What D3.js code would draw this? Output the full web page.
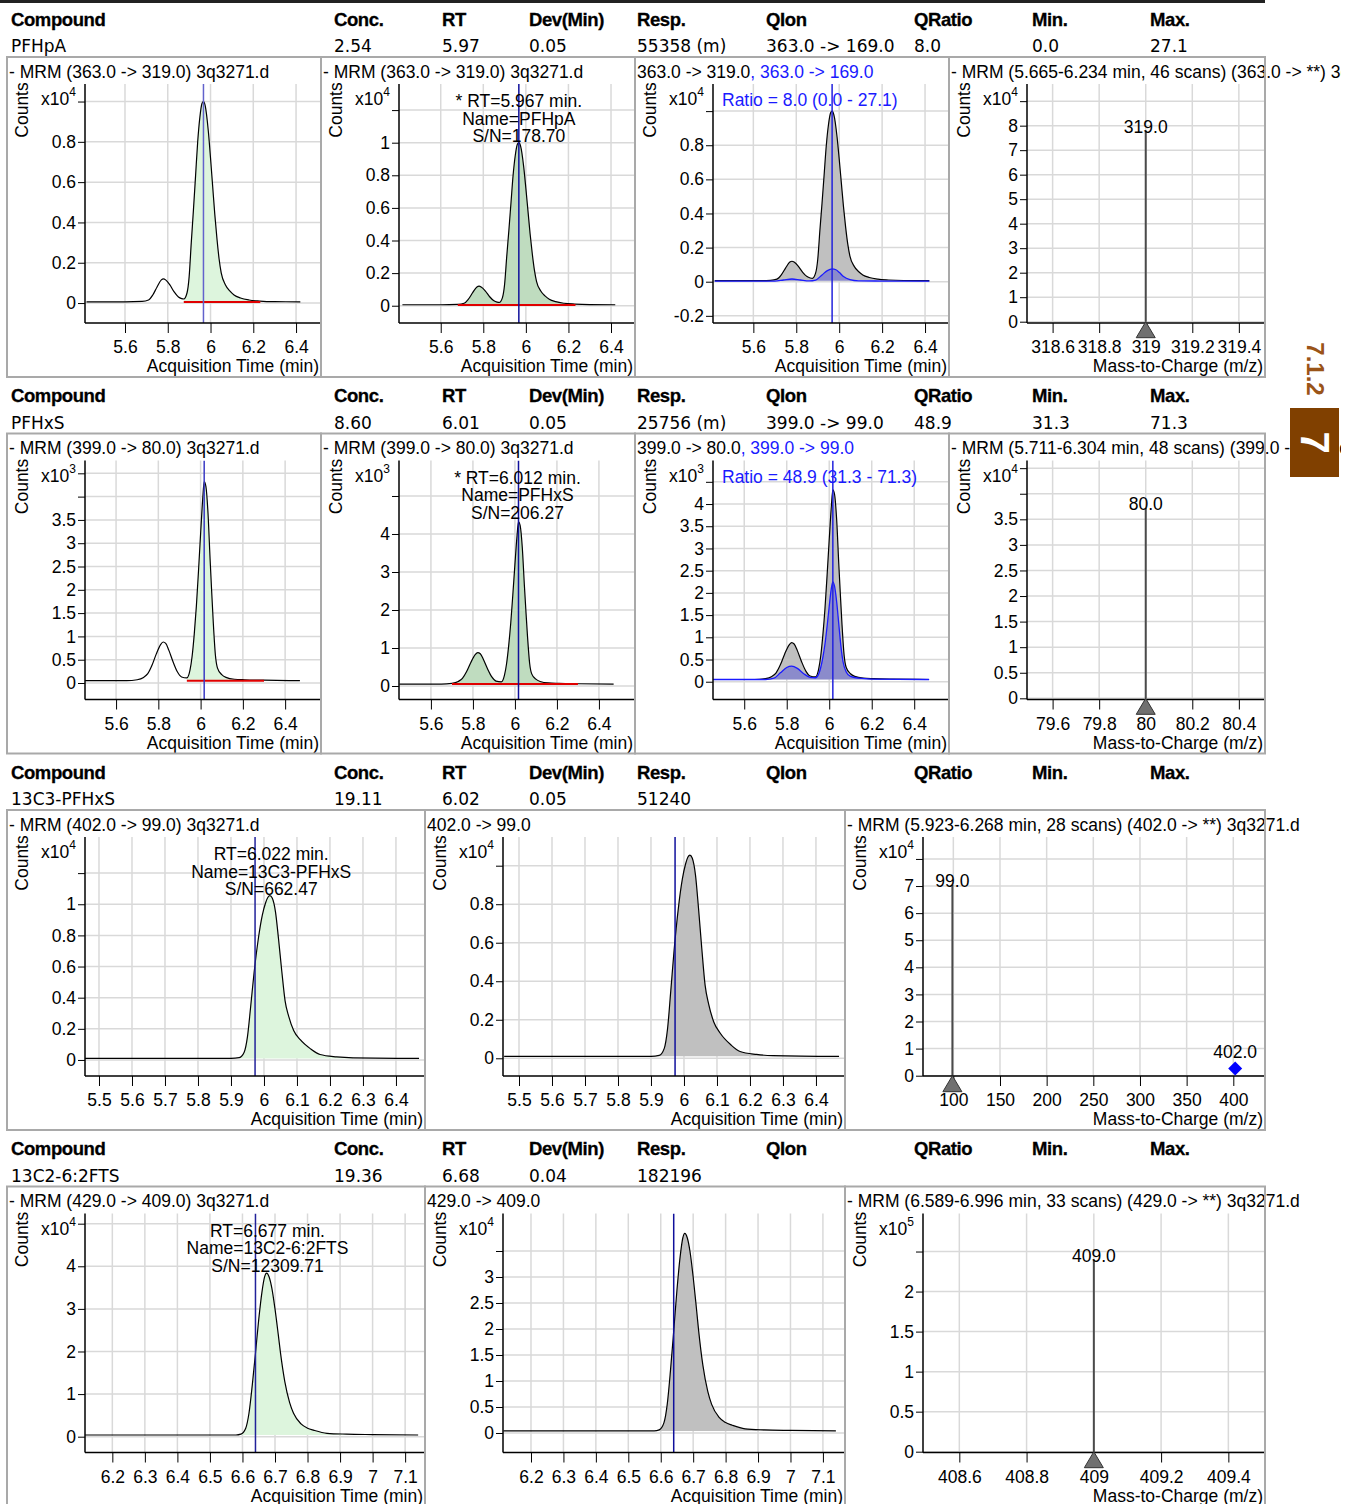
<!DOCTYPE html>
<html><head><meta charset="utf-8">
<script src="https://cdn.jsdelivr.net/npm/d3@7"></script>
<style>body{margin:0;background:#fff;}</style>
</head><body>
<svg id="c" width="1357" height="1504"></svg>
<script>
// ---------------- DATA ----------------
const headerLabels = ["Compound","Conc.","RT","Dev(Min)","Resp.","QIon","QRatio","Min.","Max."];
const compounds   = ["PFHpA","PFHxS","13C3-PFHxS","13C2-6:2FTS"];
const concValues  = ["2.54","8.60","19.11","19.36"];
const rtValues    = ["5.97","6.01","6.02","6.68"];
const devValues   = ["0.05","0.05","0.05","0.04"];
const respValues  = ["55358 (m)","25756 (m)","51240","182196"];
const qionValues  = ["363.0 -> 169.0","399.0 -> 99.0","",""];
const qratioValues= ["8.0","48.9","",""];
const minValues   = ["0.0","31.3","",""];
const maxValues   = ["27.1","71.3","",""];

const quantTransitions = ["363.0 -> 319.0","399.0 -> 80.0","402.0 -> 99.0","429.0 -> 409.0"];
const scanRanges = ["5.665-6.234","5.711-6.304","5.923-6.268","6.589-6.996"];
const scanCounts = [46,48,28,33];
const precursors = ["363.0","399.0","402.0","429.0"];
const foundRT = ["5.967","6.012","6.022","6.677"];
const snValues = ["178.70","206.27","662.47","12309.71"];
const expectedRT = [5.967, 6.017, 5.973, 6.640];
const integStart = [5.875, 5.935, 5.925, 6.595];
const integEnd   = [6.233, 6.30, 6.27, 7.0];
const baseLevel  = [0.005, 0.05, 0.01, 0.04];
const integStartWide = [5.68, 5.70];

// PFHpA 363 -> 319 (x10^4)
const pfhpaTime  = [5.42,5.60,5.68,5.71,5.73,5.75,5.77,5.78,5.79,5.81,5.83,5.85,5.865,5.875,5.89,5.90,5.91,5.92,5.93,5.94,5.95,5.96,5.967,5.975,5.99,6.00,6.01,6.02,6.03,6.04,6.05,6.07,6.09,6.11,6.14,6.18,6.23,6.30,6.42];
const pfhpaQuant = [0.006,0.006,0.008,0.015,0.04,0.08,0.115,0.12,0.115,0.09,0.055,0.03,0.022,0.02,0.05,0.13,0.30,0.46,0.63,0.80,0.92,0.99,1.0,0.98,0.85,0.72,0.58,0.44,0.32,0.22,0.15,0.09,0.06,0.04,0.025,0.015,0.01,0.007,0.006];
// PFHpA 363 -> 169 (x10^4)
const pfhpaQualTime = [5.42,5.70,5.74,5.78,5.82,5.86,5.89,5.92,5.945,5.967,5.985,6.00,6.02,6.05,6.09,6.20,6.42];
const pfhpaQual     = [0.003,0.004,0.01,0.016,0.01,0.005,0.01,0.04,0.065,0.075,0.07,0.055,0.03,0.012,0.005,0.004,0.003];
// PFHxS 399 -> 80 (x10^3)
const pfhxsTime  = [5.45,5.65,5.70,5.73,5.75,5.77,5.79,5.81,5.823,5.835,5.85,5.87,5.89,5.91,5.935,5.95,5.96,5.97,5.98,5.99,6.00,6.01,6.017,6.025,6.035,6.045,6.052,6.06,6.07,6.08,6.10,6.12,6.16,6.21,6.30,6.47];
const pfhxsQuant = [0.05,0.05,0.07,0.12,0.2,0.38,0.62,0.82,0.88,0.85,0.7,0.45,0.24,0.13,0.11,0.28,0.58,1.05,1.65,2.4,3.2,3.95,4.32,4.22,3.65,2.65,2.0,1.3,0.6,0.32,0.18,0.12,0.08,0.07,0.06,0.05];
// PFHxS 399 -> 99 (x10^3)
const pfhxsQualTime = [5.45,5.70,5.74,5.77,5.80,5.823,5.85,5.88,5.91,5.935,5.95,5.96,5.97,5.98,5.99,6.00,6.01,6.017,6.025,6.035,6.045,6.055,6.065,6.08,6.10,6.14,6.20,6.47];
const pfhxsQual     = [0.05,0.05,0.08,0.2,0.32,0.35,0.3,0.18,0.1,0.09,0.17,0.32,0.55,0.85,1.25,1.7,2.1,2.25,2.15,1.8,1.3,0.8,0.45,0.22,0.12,0.08,0.06,0.05];
// 13C3-PFHxS 402 -> 99 (x10^4)
const c3Time  = [5.455,5.90,5.925,5.94,5.95,5.96,5.97,5.983,5.995,6.005,6.012,6.018,6.025,6.035,6.044,6.054,6.064,6.075,6.09,6.11,6.142,6.17,6.22,6.27,6.47];
const c3Quant = [0.01,0.01,0.015,0.05,0.15,0.35,0.56,0.78,0.93,1.01,1.045,1.055,1.04,0.95,0.78,0.57,0.38,0.28,0.19,0.13,0.07,0.035,0.02,0.014,0.01];
// 13C2-6:2FTS 429 -> 409 (x10^4)
const c2Time  = [6.115,6.58,6.595,6.61,6.62,6.63,6.64,6.65,6.66,6.668,6.674,6.682,6.69,6.70,6.71,6.717,6.73,6.745,6.757,6.78,6.80,6.82,6.86,6.92,7.0,7.14];
const c2Quant = [0.04,0.04,0.06,0.2,0.55,1.2,1.96,2.75,3.4,3.75,3.84,3.75,3.5,3.0,2.4,1.96,1.3,0.8,0.55,0.3,0.2,0.15,0.08,0.06,0.05,0.04];

// spectra
const specMz     = [319.0, 80.0, 99.0, 409.0];
const specCounts = [7.8, 3.72, 7.04, 2.40];
const precursorMz = [402.0];
const precursorCounts = [0.27];

// tick labels
const xTicksRTa = ['5.6','5.8','6','6.2','6.4'];
const xTicksRTb = ['5.5','5.6','5.7','5.8','5.9','6','6.1','6.2','6.3','6.4'];
const xTicksRTc = ['6.2','6.3','6.4','6.5','6.6','6.7','6.8','6.9','7','7.1'];
const xTicksMz1 = ['318.6','318.8','319','319.2','319.4'];
const xTicksMz2 = ['79.6','79.8','80','80.2','80.4'];
const xTicksMz3 = ['100','150','200','250','300','350','400'];
const xTicksMz4 = ['408.6','408.8','409','409.2','409.4'];
const yT_pfhpaQ = ['0','0.2','0.4','0.6','0.8','1'];
const yT_pfhpaI = ['0','0.2','0.4','0.6','0.8','1','1.2'];
const yT_pfhpaR = ['-0.2','0','0.2','0.4','0.6','0.8','1'];
const yT_pfhpaS = ['0','1','2','3','4','5','6','7','8','9'];
const yT_pfhxsQ = ['0','0.5','1','1.5','2','2.5','3','3.5','4','4.5'];
const yT_pfhxsI = ['0','1','2','3','4','5'];
const yT_pfhxsR = ['0','0.5','1','1.5','2','2.5','3','3.5','4','4.5'];
const yT_pfhxsS = ['0','0.5','1','1.5','2','2.5','3','3.5','4','4.5'];
const yT_c3Q = ['0','0.2','0.4','0.6','0.8','1','1.2'];
const yT_c3I = ['0','0.2','0.4','0.6','0.8','1'];
const yT_c3S = ['0','1','2','3','4','5','6','7','8'];
const yT_c2Q = ['0','1','2','3','4','5'];
const yT_c2I = ['0','0.5','1','1.5','2','2.5','3','3.5'];
const yT_c2S = ['0','0.5','1','1.5','2','2.5'];

// ---------------- STYLE / LAYOUT ----------------
const FF = "'Liberation Sans', Arial, sans-serif";
const FS = 17.5;
const BLUE = '#1a1aff';
const LIGHTGREEN = '#ddf5dd', DARKGREEN = '#bfdcbf', GRAY = '#c0c0c0';
const headerX = [11,334,442,529,637,766,914,1032,1150];
const rowTop = r => r * 376.5;
const RT_T = 'Acquisition Time (min)', MZ_T = 'Mass-to-Charge (m/z)';

const svg = d3.select('#c');
const defs = svg.append('defs');
let clipN = 0;
function clip(x, y, w, h) {
  const id = 'cp' + (clipN++);
  defs.append('clipPath').attr('id', id).append('rect').attr('x', x).attr('y', y).attr('width', Math.max(0, w)).attr('height', h);
  return `url(#${id})`;
}

svg.append('rect').attr('width', 1357).attr('height', 1504).attr('fill', '#fff');
svg.append('line').attr('x1', 0).attr('x2', 1265).attr('y1', 1.5).attr('y2', 1.5).attr('stroke', '#222').attr('stroke-width', 3);

// table rows
for (let r = 0; r < 4; r++) {
  const t = rowTop(r);
  svg.append('g').selectAll('text').data(headerLabels).join('text')
    .attr('x', (d, i) => headerX[i]).attr('y', t + 25.5)
    .attr('font-family', FF).attr('font-weight', 'bold').attr('font-size', 18.5).attr('letter-spacing', -0.4)
    .attr('stroke', '#000').attr('stroke-width', 0.3)
    .text(d => d);
  const vals = [compounds[r], concValues[r], rtValues[r], devValues[r], respValues[r], qionValues[r], qratioValues[r], minValues[r], maxValues[r]];
  svg.append('g').selectAll('text').data(vals).join('text')
    .attr('x', (d, i) => headerX[i]).attr('y', t + 52)
    .attr('font-family', "'DejaVu Sans', Verdana, sans-serif").attr('font-size', 17)
    .text(d => d);
}

const titleLayer = svg.append('g').attr('clip-path', clip(0, 0, 1341, 1504));

function drawPanel(p) {
  const y0 = rowTop(p.row) + 57, x0 = p.x, w = p.w;
  const L = x0 + 78, R = x0 + w - 1, T = y0 + 27, B = y0 + 266;
  const g = svg.append('g');
  const xs = d3.scaleLinear().domain(p.xd).range([L, R]);
  const ys = d3.scaleLinear().domain(p.yd).range([B, T]);
  const xt = p.xl.map(Number), yt = p.yl.map(Number);
  const ylab = p.yl.map((d, i) => i >= p.yl.length - p.hide ? '' : d);

  // grid
  g.append('g').selectAll('line').data(xt).join('line')
    .attr('x1', d => xs(d)).attr('x2', d => xs(d)).attr('y1', T).attr('y2', B)
    .attr('stroke', '#d9d9d9').attr('stroke-width', 1.5);
  g.append('g').selectAll('line').data(yt).join('line')
    .attr('x1', L).attr('x2', R).attr('y1', d => ys(d)).attr('y2', d => ys(d))
    .attr('stroke', '#d9d9d9').attr('stroke-width', 1.5);

  const plot = g.append('g').attr('clip-path', clip(L, T, R - L, B - T));
  const line = d3.line().x(d => xs(d[0])).y(d => ys(d[1])).curve(d3.curveMonotoneX);
  const area = base => d3.area().x(d => xs(d[0])).y0(ys(base)).y1(d => ys(d[1])).curve(d3.curveMonotoneX);

  if (p.kind === 'chrom' || p.kind === 'qual') {
    const pts = d3.zip(p.t, p.v);
    if (p.fillAll) {
      plot.append('path').attr('d', area(p.base)(pts)).attr('fill', p.fillColor);
    } else {
      const a = xs(p.fill[0]), b = xs(p.fill[1]);
      plot.append('g').attr('clip-path', clip(a, T, b - a, B - T))
        .append('path').attr('d', area(p.base)(pts)).attr('fill', p.fillColor);
    }
    plot.append('path').attr('d', line(pts)).attr('fill', 'none').attr('stroke', '#000').attr('stroke-width', 1.2);
    if (p.kind === 'qual') {
      const q = d3.zip(p.qt, p.qv);
      plot.append('path').attr('d', area(p.base)(q)).attr('fill', '#3c3cdc').attr('fill-opacity', 0.4);
      plot.append('path').attr('d', line(q)).attr('fill', 'none').attr('stroke', BLUE).attr('stroke-width', 1.3);
    }
    if (p.red) {
      plot.append('line').attr('x1', xs(p.fill[0])).attr('x2', xs(p.fill[1]))
        .attr('y1', ys(p.base)).attr('y2', ys(p.base)).attr('stroke', '#e00000').attr('stroke-width', 2);
    }
    if (p.annot) {
      g.append('g').selectAll('text').data(p.annot).join('text')
        .attr('x', xs(p.annotX)).attr('y', (d, i) => y0 + 50 + i * 17.5)
        .attr('text-anchor', 'middle').attr('font-family', FF).attr('font-size', FS).text(d => d);
    }
    plot.append('line').attr('x1', xs(p.rt)).attr('x2', xs(p.rt)).attr('y1', T).attr('y2', B)
      .attr('stroke', p.rtColor).attr('stroke-width', 1.5);
    if (p.ratio) {
      g.append('text').attr('x', L + 9).attr('y', y0 + 49).attr('font-family', FF).attr('font-size', FS)
        .attr('fill', BLUE).text(p.ratio);
    }
  }
  if (p.kind === 'spec') {
    plot.append('line').attr('x1', xs(p.mz)).attr('x2', xs(p.mz)).attr('y1', ys(0)).attr('y2', ys(p.val))
      .attr('stroke', '#4a4a4a').attr('stroke-width', 2);
    g.append('text').attr('x', xs(p.mz)).attr('y', ys(p.val) + 2).attr('text-anchor', 'middle')
      .attr('font-family', FF).attr('font-size', FS).text(p.mz.toFixed(1));
  }

  // axes
  const ya = d3.axisLeft(ys).tickValues(yt).tickFormat((d, i) => ylab[i]).tickSize(7).tickPadding(2);
  const yg = g.append('g').attr('transform', `translate(${L},0)`).call(ya);
  yg.select('.domain').remove();
  yg.attr('font-size', FS).attr('font-family', FF);
  yg.selectAll('text').attr('fill', '#000');
  yg.selectAll('line').attr('stroke', '#000');
  const xa = d3.axisBottom(xs).tickValues(xt).tickFormat((d, i) => p.xl[i]).tickSize(10).tickPadding(8);
  const xg = g.append('g').attr('transform', `translate(0,${B})`).call(xa);
  xg.select('.domain').remove();
  xg.attr('font-size', FS).attr('font-family', FF);
  xg.selectAll('text').attr('fill', '#000');
  xg.selectAll('line').attr('stroke', '#000');
  g.append('line').attr('x1', L).attr('x2', L).attr('y1', T).attr('y2', B).attr('stroke', '#000').attr('stroke-width', 1.5);
  g.append('line').attr('x1', L).attr('x2', R).attr('y1', B).attr('y2', B).attr('stroke', '#000').attr('stroke-width', 1.5);

  if (p.kind === 'spec') {
    const cx = xs(p.mz), cy = ys(0);
    g.append('path').attr('d', `M${cx},${cy} L${cx + 9.5},${cy + 16} L${cx - 9.5},${cy + 16} Z`)
      .attr('fill', '#707070').attr('stroke', '#333').attr('stroke-width', 1);
    if (p.pmz !== undefined) {
      const dx = xs(p.pmz), dy = ys(p.pval);
      g.append('path').attr('d', `M${dx},${dy - 7} L${dx + 7},${dy} L${dx},${dy + 7} L${dx - 7},${dy} Z`).attr('fill', '#0000ff');
      g.append('text').attr('x', dx).attr('y', dy - 10).attr('text-anchor', 'middle')
        .attr('font-family', FF).attr('font-size', FS).text(p.pmz.toFixed(1));
    }
  }

  // labels
  g.append('text').attr('transform', `translate(${x0 + 21},${y0 + 53}) rotate(-90)`).attr('text-anchor', 'middle')
    .attr('font-family', FF).attr('font-size', FS).text('Counts');
  const ex = g.append('text').attr('x', L - 9).attr('y', T + 21).attr('text-anchor', 'end')
    .attr('font-family', FF).attr('font-size', FS);
  ex.append('tspan').text('x10');
  ex.append('tspan').attr('dy', -9).attr('font-size', 12).text(p.exp);
  g.append('text').attr('x', R - 1).attr('y', y0 + 315).attr('text-anchor', 'end')
    .attr('font-family', FF).attr('font-size', FS).text(p.xTitle);

  // title
  const tt = titleLayer.append('text').attr('x', x0 + 2).attr('y', y0 + 20.5).attr('font-family', FF).attr('font-size', FS);
  p.title.forEach(s => tt.append('tspan').attr('fill', s[1]).text(s[0]));

  // border
  svg.append('rect').attr('x', x0).attr('y', y0).attr('width', w).attr('height', 320)
    .attr('fill', 'none').attr('stroke', '#a9a9a9').attr('stroke-width', 2);
}

const K = '#000';
const mrmTitle = r => [[`- MRM (${quantTransitions[r]}) 3q3271.d`, K]];
const specTitle = r => [[`- MRM (${scanRanges[r]} min, ${scanCounts[r]} scans) (${precursors[r]} -> **) 3q3271.d`, K]];
const annot = (r, star) => [`${star ? '* ' : ''}RT=${foundRT[r]} min.`, `Name=${compounds[r]}`, `S/N=${snValues[r]}`];
const ratioText = r => `Ratio = ${qratioValues[r]} (${minValues[r]} - ${maxValues[r]})`;

const panels = [
  // ---- row 0 : PFHpA
  {row:0, x:7, w:314, kind:'chrom', title:mrmTitle(0), exp:'4', xd:[5.413,6.512], yd:[-0.099,1.087],
   xl:xTicksRTa, yl:yT_pfhpaQ, hide:1, t:pfhpaTime, v:pfhpaQuant, base:baseLevel[0],
   fill:[integStart[0], integEnd[0]], fillColor:LIGHTGREEN, red:true, rt:expectedRT[0], rtColor:'#6262cc', xTitle:RT_T},
  {row:0, x:321, w:314, kind:'chrom', title:mrmTitle(0), exp:'4', xd:[5.404,6.508], yd:[-0.106,1.36],
   xl:xTicksRTa, yl:yT_pfhpaI, hide:1, t:pfhpaTime, v:pfhpaQuant, base:baseLevel[0],
   fill:[integStartWide[0], integEnd[0]], fillColor:DARKGREEN, red:true, rt:expectedRT[0], rtColor:'#10109c',
   annot:annot(0, true), annotX:+foundRT[0], xTitle:RT_T},
  {row:0, x:635, w:314, kind:'qual', title:[[quantTransitions[0], K], [', ' + qionValues[0], BLUE]], exp:'4',
   xd:[5.412,6.507], yd:[-0.242,1.159], xl:xTicksRTa, yl:yT_pfhpaR, hide:1,
   t:pfhpaTime, v:pfhpaQuant, qt:pfhpaQualTime, qv:pfhpaQual, base:baseLevel[0], fillAll:true, fillColor:GRAY,
   rt:expectedRT[0], rtColor:'#2222dd', ratio:ratioText(0), xTitle:RT_T},
  {row:0, x:949, w:316, kind:'spec', title:specTitle(0), exp:'4', xd:[318.49,319.508], yd:[-0.053,9.70],
   xl:xTicksMz1, yl:yT_pfhpaS, hide:1, mz:specMz[0], val:specCounts[0], xTitle:MZ_T},
  // ---- row 1 : PFHxS
  {row:1, x:7, w:314, kind:'chrom', title:mrmTitle(1), exp:'3', xd:[5.453,6.565], yd:[-0.354,4.775],
   xl:xTicksRTa, yl:yT_pfhxsQ, hide:2, t:pfhxsTime, v:pfhxsQuant, base:baseLevel[1],
   fill:[integStart[1], integEnd[1]], fillColor:LIGHTGREEN, red:true, rt:expectedRT[1], rtColor:'#3a3ac4', xTitle:RT_T},
  {row:1, x:321, w:314, kind:'chrom', title:mrmTitle(1), exp:'3', xd:[5.448,6.567], yd:[-0.355,5.934],
   xl:xTicksRTa, yl:yT_pfhxsI, hide:1, t:pfhxsTime, v:pfhxsQuant, base:baseLevel[1],
   fill:[integStartWide[1], integEnd[1]], fillColor:DARKGREEN, red:true, rt:expectedRT[1], rtColor:'#10109c',
   annot:annot(1, true), annotX:+foundRT[1], xTitle:RT_T},
  {row:1, x:635, w:314, kind:'qual', title:[[quantTransitions[1], K], [', ' + qionValues[1], BLUE]], exp:'3',
   xd:[5.453,6.559], yd:[-0.40,4.98], xl:xTicksRTa, yl:yT_pfhxsR, hide:1,
   t:pfhxsTime, v:pfhxsQuant, qt:pfhxsQualTime, qv:pfhxsQual, base:baseLevel[1], fillAll:true, fillColor:GRAY,
   rt:expectedRT[1], rtColor:'#2222dd', ratio:ratioText(1), xTitle:RT_T},
  {row:1, x:949, w:316, kind:'spec', title:specTitle(1), exp:'4', xd:[79.49,80.508], yd:[-0.023,4.65],
   xl:xTicksMz2, yl:yT_pfhxsS, hide:2, mz:specMz[1], val:specCounts[1], xTitle:MZ_T},
  // ---- row 2 : 13C3-PFHxS
  {row:2, x:7, w:418, kind:'chrom', title:mrmTitle(2), exp:'4', xd:[5.4576,6.485], yd:[-0.103,1.432],
   xl:xTicksRTb, yl:yT_c3Q, hide:1, t:c3Time, v:c3Quant, base:baseLevel[2],
   fill:[integStart[2], integEnd[2]], fillColor:LIGHTGREEN, red:false, rt:expectedRT[2], rtColor:'#22229a',
   annot:annot(2, false), annotX:+foundRT[2], xTitle:RT_T},
  {row:2, x:425, w:420, kind:'chrom', title:[[quantTransitions[2], K]], exp:'4', xd:[5.4515,6.485], yd:[-0.092,1.149],
   xl:xTicksRTb, yl:yT_c3I, hide:1, t:c3Time, v:c3Quant, base:baseLevel[2], fillAll:true, fillColor:GRAY,
   rt:expectedRT[2], rtColor:'#10109c', xTitle:RT_T},
  {row:2, x:845, w:420, kind:'spec', title:specTitle(2), exp:'4', xd:[67.5,432.9], yd:[-0.011,8.81],
   xl:xTicksMz3, yl:yT_c3S, hide:1, mz:specMz[2], val:specCounts[2], pmz:precursorMz[0], pval:precursorCounts[0], xTitle:MZ_T},
  // ---- row 3 : 13C2-6:2FTS
  {row:3, x:7, w:418, kind:'chrom', title:mrmTitle(3), exp:'4', xd:[6.116,7.158], yd:[-0.371,5.239],
   xl:xTicksRTc, yl:yT_c2Q, hide:1, t:c2Time, v:c2Quant, base:baseLevel[3],
   fill:[integStart[3], integEnd[3]], fillColor:LIGHTGREEN, red:false, rt:expectedRT[3], rtColor:'#22229a',
   annot:annot(3, false), annotX:+foundRT[3], xTitle:RT_T},
  {row:3, x:425, w:420, kind:'chrom', title:[[quantTransitions[3], K]], exp:'4', xd:[6.1137,7.165], yd:[-0.375,4.221],
   xl:xTicksRTc, yl:yT_c2I, hide:1, t:c2Time, v:c2Quant, base:baseLevel[3], fillAll:true, fillColor:GRAY,
   rt:expectedRT[3], rtColor:'#10109c', xTitle:RT_T},
  {row:3, x:845, w:420, kind:'spec', title:specTitle(3), exp:'5', xd:[408.492,409.506], yd:[-0.01,2.975],
   xl:xTicksMz4, yl:yT_c2S, hide:1, mz:specMz[3], val:specCounts[3], xTitle:MZ_T}
];
panels.forEach(drawPanel);

// side tab
svg.append('text').attr('transform', 'translate(1307,369) rotate(90)').attr('text-anchor', 'middle')
  .attr('font-family', FF).attr('font-weight', 'bold').attr('font-size', 24).attr('fill', '#9a5418').text('7.1.2');
svg.append('rect').attr('x', 1290).attr('y', 408).attr('width', 49).attr('height', 69).attr('fill', '#804000');
svg.append('text').attr('transform', 'translate(1301,442.5) rotate(90)').attr('text-anchor', 'middle')
  .attr('font-family', FF).attr('font-weight', 'bold').attr('font-size', 40).attr('fill', '#fff').text('7');
</script>
</body></html>
